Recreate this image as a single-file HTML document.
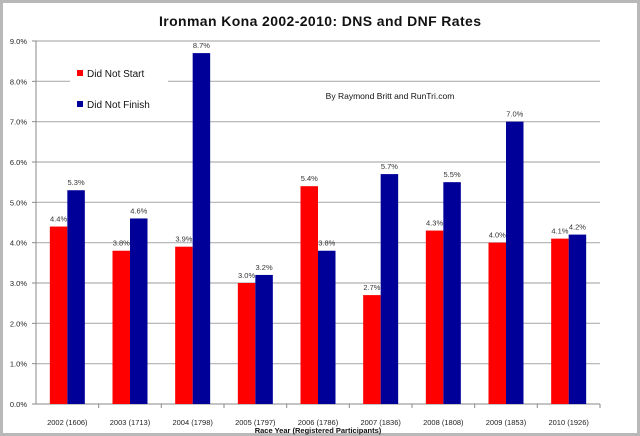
<!DOCTYPE html>
<html><head><meta charset="utf-8"><style>
body{margin:0;background:#fff}
svg{display:block;font-family:"Liberation Sans",sans-serif}
</style></head><body>
<svg width="640" height="436">
<rect x="1.5" y="1.5" width="637" height="433" fill="#fff" stroke="#b8b8b8" stroke-width="3"/>
<text x="320" y="26" text-anchor="middle" font-size="14" font-weight="bold" fill="#111" textLength="322">Ironman Kona 2002-2010: DNS and DNF Rates</text>
<g id="grid"></g>
<g id="bars"></g>
<g id="labels"></g>
<rect x="70" y="62" width="98" height="55" fill="#fff"/>
<rect x="77" y="70" width="6" height="6" fill="#ff0000"/>
<text x="87" y="77" font-size="10" fill="#111">Did Not Start</text>
<rect x="77" y="101" width="6" height="6" fill="#000099"/>
<text x="87" y="108" font-size="10" fill="#111">Did Not Finish</text>
<text x="390" y="99" text-anchor="middle" font-size="8.5" fill="#111">By Raymond Britt and RunTri.com</text>
<text x="318" y="433" text-anchor="middle" font-size="7.5" font-weight="bold" fill="#111">Race Year (Registered Participants)</text>
</svg>
<script>
const categories=["2002 (1606)","2003 (1713)","2004 (1798)","2005 (1797)","2006 (1786)","2007 (1836)","2008 (1808)","2009 (1853)","2010 (1926)"];
const dns=[4.4,3.8,3.9,3.0,5.4,2.7,4.3,4.0,4.1];
const dnf=[5.3,4.6,8.7,3.2,3.8,5.7,5.5,7.0,4.2];
const yTicks=[0,1,2,3,4,5,6,7,8,9];
const NS="http://www.w3.org/2000/svg";
const X0=36,X1=600,Y0=404,Y9=41;
const cw=(X1-X0)/categories.length;
const y=v=>Y0-(Y0-Y9)*v/9;
const xc=i=>X0+cw*(i+0.5);
function mk(tag,attrs,parent,text){const e=document.createElementNS(NS,tag);for(const k in attrs)e.setAttribute(k,attrs[k]);if(text!=null)e.textContent=text;document.getElementById(parent).appendChild(e);return e;}
yTicks.forEach(t=>{
 if(t>0){const l=mk('line',{x1:X0,x2:X1,y1:y(t),y2:y(t),stroke:'#b0b0b0','stroke-width':1.2},'grid');
 
 }
 const tx=mk('text',{x:X0-9,y:y(t)+3,'text-anchor':'end','font-size':7.5,fill:'#222'},'grid',t.toFixed(1)+'%');
 
 
 const tk=mk('line',{x1:X0-4,x2:X0,y1:y(t),y2:y(t),stroke:'#888'},'grid');
 
 
});
const ax=mk('line',{x1:X0,x2:X0,y1:Y9,y2:Y0,stroke:'#888'},'grid');


const bx=mk('line',{x1:X0,x2:X1,y1:Y0,y2:Y0,stroke:'#888'},'grid');


const bw=17.5;
categories.forEach((c,i)=>{
 const tk=mk('line',{x1:X0+cw*(i+1),x2:X0+cw*(i+1),y1:Y0,y2:Y0+4,stroke:'#888'},'grid');
 
 
 const cl=mk('text',{x:xc(i),y:425,'text-anchor':'middle','font-size':7.5,fill:'#222'},'labels',c);
 
 
 const r=mk('rect',{x:xc(i)-bw,y:y(dns[i]),width:bw,height:Y0-y(dns[i]),fill:'#ff0000'},'bars');
 
 
 const b=mk('rect',{x:xc(i),y:y(dnf[i]),width:bw,height:Y0-y(dnf[i]),fill:'#000099'},'bars');
 
 
 const l1=mk('text',{x:xc(i)-bw/2,y:y(dns[i])-5,'text-anchor':'middle','font-size':7.5,fill:'#333'},'labels',dns[i].toFixed(1)+'%');
 
 
 const l2=mk('text',{x:xc(i)+bw/2,y:y(dnf[i])-5,'text-anchor':'middle','font-size':7.5,fill:'#333'},'labels',dnf[i].toFixed(1)+'%');
 
 
});
</script>
</body></html>
